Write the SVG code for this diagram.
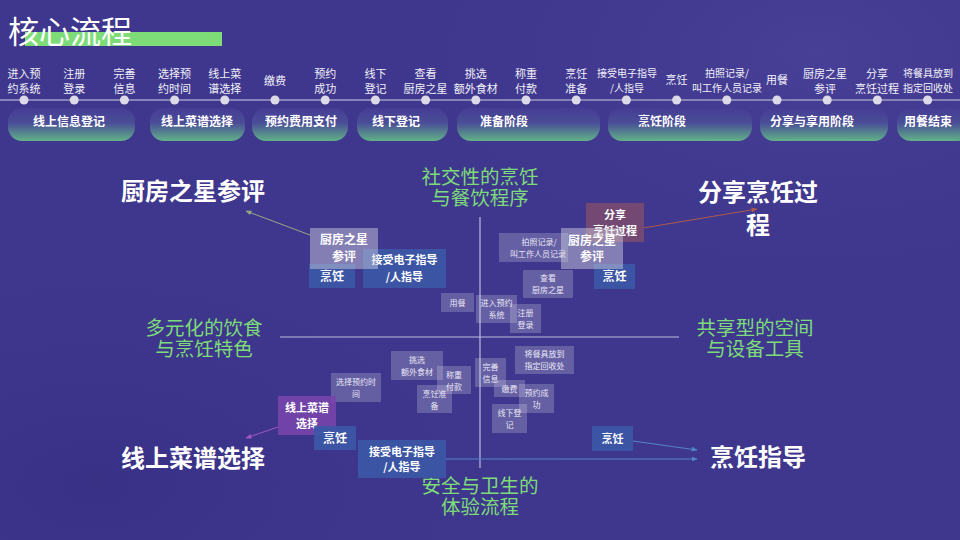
<svg xmlns="http://www.w3.org/2000/svg" width="960" height="540" viewBox="0 0 960 540">
<defs>
<radialGradient id="bgA" cx="0.85" cy="0.1" r="0.5"><stop offset="0" stop-color="#4a4299" stop-opacity="0.8"/><stop offset="1" stop-color="#3f378e" stop-opacity="0"/></radialGradient>
<radialGradient id="bgB" cx="0.1" cy="0.9" r="0.5"><stop offset="0" stop-color="#362f84" stop-opacity="0.8"/><stop offset="1" stop-color="#3f378e" stop-opacity="0"/></radialGradient>
<linearGradient id="pill" x1="0" y1="0" x2="0" y2="1"><stop offset="0" stop-color="#453d95"/><stop offset="0.45" stop-color="#4a4d97"/><stop offset="1" stop-color="#61b288"/></linearGradient>
<marker id="aG" viewBox="0 0 10 10" refX="9" refY="5" markerWidth="6" markerHeight="6" orient="auto"><path d="M0,1 L10,5 L0,9 z" fill="#98a884"/></marker>
<marker id="aR" viewBox="0 0 10 10" refX="9" refY="5" markerWidth="6" markerHeight="6" orient="auto"><path d="M0,1 L10,5 L0,9 z" fill="#b0584c"/></marker>
<marker id="aP" viewBox="0 0 10 10" refX="9" refY="5" markerWidth="6" markerHeight="6" orient="auto"><path d="M0,1 L10,5 L0,9 z" fill="#a358c8"/></marker>
<marker id="aB" viewBox="0 0 10 10" refX="9" refY="5" markerWidth="6" markerHeight="6" orient="auto"><path d="M0,1 L10,5 L0,9 z" fill="#4f86c8"/></marker>
</defs>
<style>
text{font-family:"Noto Sans CJK SC","Noto Sans",sans-serif;fill:#ffffff;text-anchor:middle}
.step{font-size:11px;fill:#f2f1f8}
.phase{font-size:12px;font-weight:700}
.sm{font-size:8px;fill:#e9e7f4}
.md{font-size:12px;font-weight:700}
.md11{font-size:11px;font-weight:700}
.big{font-size:24px;font-weight:700}
.grn{font-size:19.5px;fill:#7ddc78}
.sbox{fill:#ffffff;fill-opacity:0.2}
.gbox{fill:#d6d5e2;fill-opacity:0.45}
.bbox{fill:#3b58a6;fill-opacity:0.92}
.dot{fill:#dcdae8}
.axis{stroke:#bdb9dc;stroke-width:1.2;fill:none}
</style>
<rect width="960" height="540" fill="#3f378e"/>
<rect width="960" height="540" fill="url(#bgA)"/>
<rect width="960" height="540" fill="url(#bgB)"/>

<g id="title">
<rect x="25" y="32" width="197" height="14" fill="#7ddc78"/>
<text x="8" y="43" style="font-size:31px;text-anchor:start">核心流程</text>
</g>

<g id="timeline">
<line x1="0" y1="100" x2="960" y2="100" stroke="#a19dc4" stroke-width="1.5"/>
<circle class="dot" cx="24" cy="100" r="4.5"/><circle class="dot" cx="74.2" cy="100" r="4.5"/><circle class="dot" cx="124.4" cy="100" r="4.5"/><circle class="dot" cx="174.6" cy="100" r="4.5"/><circle class="dot" cx="224.8" cy="100" r="4.5"/><circle class="dot" cx="275" cy="100" r="4.5"/><circle class="dot" cx="325.2" cy="100" r="4.5"/><circle class="dot" cx="375.4" cy="100" r="4.5"/><circle class="dot" cx="425.6" cy="100" r="4.5"/><circle class="dot" cx="475.8" cy="100" r="4.5"/><circle class="dot" cx="526" cy="100" r="4.5"/><circle class="dot" cx="576.2" cy="100" r="4.5"/><circle class="dot" cx="626.4" cy="100" r="4.5"/><circle class="dot" cx="676.6" cy="100" r="4.5"/><circle class="dot" cx="726.8" cy="100" r="4.5"/><circle class="dot" cx="777" cy="100" r="4.5"/><circle class="dot" cx="827.2" cy="100" r="4.5"/><circle class="dot" cx="877.4" cy="100" r="4.5"/><circle class="dot" cx="927.6" cy="100" r="4.5"/>
</g>

<g id="steps">
<text class="step" x="24" y="78">进入预</text><text class="step" x="24" y="93">约系统</text>
<text class="step" x="74.2" y="78">注册</text><text class="step" x="74.2" y="93">登录</text>
<text class="step" x="124.4" y="78">完善</text><text class="step" x="124.4" y="93">信息</text>
<text class="step" x="174.6" y="78">选择预</text><text class="step" x="174.6" y="93">约时间</text>
<text class="step" x="224.8" y="78">线上菜</text><text class="step" x="224.8" y="93">谱选择</text>
<text class="step" x="275" y="85">缴费</text>
<text class="step" x="325.2" y="78">预约</text><text class="step" x="325.2" y="93">成功</text>
<text class="step" x="375.4" y="78">线下</text><text class="step" x="375.4" y="93">登记</text>
<text class="step" x="425.6" y="78">查看</text><text class="step" x="425.6" y="93">厨房之星</text>
<text class="step" x="475.8" y="78">挑选</text><text class="step" x="475.8" y="93">额外食材</text>
<text class="step" x="526" y="78">称重</text><text class="step" x="526" y="93">付款</text>
<text class="step" x="576.2" y="78">烹饪</text><text class="step" x="576.2" y="93">准备</text>
<text class="step" x="627" y="77" style="font-size:10px">接受电子指导</text><text class="step" x="627" y="92" style="font-size:10px">/人指导</text>
<text class="step" x="676.6" y="84">烹饪</text>
<text class="step" x="727" y="77" style="font-size:10px">拍照记录/</text><text class="step" x="727" y="92" style="font-size:10px">叫工作人员记录</text>
<text class="step" x="777" y="84">用餐</text>
<text class="step" x="825" y="78">厨房之星</text><text class="step" x="825" y="93">参评</text>
<text class="step" x="877" y="78">分享</text><text class="step" x="877" y="93">烹饪过程</text>
<text class="step" x="928" y="77" style="font-size:10px">将餐具放到</text><text class="step" x="928" y="92" style="font-size:10px">指定回收处</text>
</g>

<g id="phases">
<rect x="8" y="108" width="127" height="33" rx="14" fill="url(#pill)"/><text class="phase" x="69" y="126">线上信息登记</text>
<rect x="150" y="108" width="95" height="33" rx="14" fill="url(#pill)"/><text class="phase" x="197" y="126">线上菜谱选择</text>
<rect x="252" y="108" width="96" height="33" rx="14" fill="url(#pill)"/><text class="phase" x="301" y="126">预约费用支付</text>
<rect x="357" y="108" width="91" height="33" rx="14" fill="url(#pill)"/><text class="phase" x="396" y="126">线下登记</text>
<rect x="457" y="108" width="143" height="33" rx="14" fill="url(#pill)"/><text class="phase" x="504" y="126">准备阶段</text>
<rect x="608" y="108" width="144" height="33" rx="14" fill="url(#pill)"/><text class="phase" x="662" y="126">烹饪阶段</text>
<rect x="760" y="108" width="128" height="33" rx="14" fill="url(#pill)"/><text class="phase" x="812" y="126">分享与享用阶段</text>
<rect x="897" y="108" width="75" height="33" rx="14" fill="url(#pill)"/><text class="phase" x="928" y="126">用餐结束</text>
</g>

<g id="axes">
<line class="axis" x1="480" y1="217" x2="480" y2="468"/>
<line class="axis" x1="280" y1="337" x2="679" y2="337"/>
</g>

<g id="axis-labels">
<text class="grn" x="480" y="184">社交性的烹饪<tspan x="480" dy="21">与餐饮程序</tspan></text>
<text class="grn" x="204" y="335">多元化的饮食<tspan x="204" dy="21">与烹饪特色</tspan></text>
<text class="grn" x="755" y="335">共享型的空间<tspan x="755" dy="21">与设备工具</tspan></text>
<text class="grn" x="480" y="493">安全与卫生的<tspan x="480" dy="21">体验流程</tspan></text>
</g>

<g id="corner-labels">
<text class="big" x="193" y="200">厨房之星参评</text>
<text class="big" x="758" y="201">分享烹饪过<tspan x="758" dy="33">程</tspan></text>
<text class="big" x="193" y="467">线上菜谱选择</text>
<text class="big" x="758" y="466">烹饪指导</text>
</g>

<g id="connectors">
<line x1="310" y1="235" x2="246" y2="211" stroke="#98a884" stroke-width="1" marker-end="url(#aG)"/>
<line x1="643" y1="228" x2="757" y2="209" stroke="#b0584c" stroke-width="1" marker-end="url(#aR)"/>
<line x1="278" y1="427" x2="246" y2="438" stroke="#a358c8" stroke-width="1" marker-end="url(#aP)"/>
<line x1="633" y1="441" x2="697" y2="450" stroke="#4f86c8" stroke-width="1" marker-end="url(#aB)"/>
<line x1="446" y1="459" x2="697" y2="459" stroke="#4f86c8" stroke-width="1" marker-end="url(#aB)"/>
</g>

<g id="n-yongcan"><rect class="sbox" x="441" y="293" width="33" height="19"/><text class="sm" x="457.5" y="305.5">用餐</text></g>
<g id="n-jinru"><rect class="sbox" x="476" y="295" width="41" height="28"/><text class="sm" x="496.5" y="306">进入预约</text><text class="sm" x="496.5" y="318">系统</text></g>
<g id="n-zhuce"><rect class="sbox" x="510" y="304" width="31" height="29"/><text class="sm" x="525.5" y="315.5">注册</text><text class="sm" x="525.5" y="327.5">登录</text></g>
<g id="n-chakan"><rect class="sbox" x="523" y="270" width="50" height="28"/><text class="sm" x="548" y="281">查看</text><text class="sm" x="548" y="293">厨房之星</text></g>
<g id="n-paizhao"><rect class="sbox" x="499" y="233" width="69" height="29"/><text class="sm" x="539" y="245">拍照记录/</text><text class="sm" x="538" y="257">叫工作人员记录</text></g>
<g id="n-fenxiang"><rect x="586" y="203" width="58" height="39" fill="#7c4c70" fill-opacity="0.85"/><text class="md11" x="615" y="219">分享</text><text class="md11" x="615" y="235">烹饪过程</text></g>
<g id="n-pengren-r"><rect class="bbox" x="594" y="264" width="41" height="25"/><text class="md" x="614.5" y="281">烹饪</text></g>
<g id="n-chufang-r"><rect class="gbox" x="561" y="228" width="62" height="41"/><text class="md" x="592" y="245">厨房之星</text><text class="md" x="592" y="261">参评</text></g>

<g id="n-pengren-l"><rect class="bbox" x="309" y="264" width="46" height="24"/><text class="md" x="332" y="280.5">烹饪</text></g>
<g id="n-jieshou-t"><rect class="bbox" x="363" y="249" width="83" height="39"/><text class="md11" x="404.5" y="264">接受电子指导</text><text class="md11" x="404.5" y="281">/人指导</text></g>
<g id="n-chufang-l"><rect class="gbox" x="310" y="228" width="68" height="41"/><text class="md" x="344" y="244">厨房之星</text><text class="md" x="344" y="261">参评</text></g>

<g id="n-jiangcan"><rect class="sbox" x="515" y="346" width="59" height="28"/><text class="sm" x="544.5" y="357">将餐具放到</text><text class="sm" x="544.5" y="369">指定回收处</text></g>
<g id="n-wanshan"><rect class="sbox" x="475" y="358" width="31" height="29"/><text class="sm" x="490.5" y="369.5">完善</text><text class="sm" x="490.5" y="381.5">信息</text></g>
<g id="n-jiaofei"><rect class="sbox" x="494" y="380" width="31" height="17"/><text class="sm" x="509.5" y="391.5">缴费</text></g>
<g id="n-yuyue"><rect class="sbox" x="519" y="384" width="35" height="29"/><text class="sm" x="536.5" y="396">预约成</text><text class="sm" x="536.5" y="408">功</text></g>
<g id="n-xianxia"><rect class="sbox" x="492" y="404" width="35" height="29"/><text class="sm" x="509.5" y="416">线下登</text><text class="sm" x="509.5" y="428">记</text></g>
<g id="n-tiaoxuan"><rect class="sbox" x="391" y="351" width="52" height="29"/><text class="sm" x="417" y="363">挑选</text><text class="sm" x="417" y="375">额外食材</text></g>
<g id="n-chengzhong"><rect class="sbox" x="437" y="366" width="34" height="28"/><text class="sm" x="454" y="377.5">称重</text><text class="sm" x="454" y="389.5">付款</text></g>
<g id="n-zhunbei"><rect class="sbox" x="417" y="385" width="35" height="28"/><text class="sm" x="434.5" y="396.5">烹饪准</text><text class="sm" x="434.5" y="408.5">备</text></g>
<g id="n-xuanze"><rect class="sbox" x="331" y="373" width="50" height="29"/><text class="sm" x="356" y="385">选择预约时</text><text class="sm" x="356" y="397">间</text></g>

<g id="n-caipu"><rect x="278" y="396" width="58" height="39" fill="#7a44ad" fill-opacity="0.85"/><text class="md11" x="307" y="412">线上菜谱</text><text class="md11" x="307" y="428">选择</text></g>
<g id="n-pengren-bl"><rect class="bbox" x="314" y="426" width="42" height="24"/><text class="md" x="335" y="442.5">烹饪</text></g>
<g id="n-jieshou-b"><rect class="bbox" x="358" y="440" width="88" height="38"/><text class="md11" x="402" y="456">接受电子指导</text><text class="md11" x="402" y="471">/人指导</text></g>
<g id="n-pengren-br"><rect class="bbox" x="592" y="426" width="41" height="25"/><text class="md11" x="612.5" y="442.5">烹饪</text></g>
</svg>
